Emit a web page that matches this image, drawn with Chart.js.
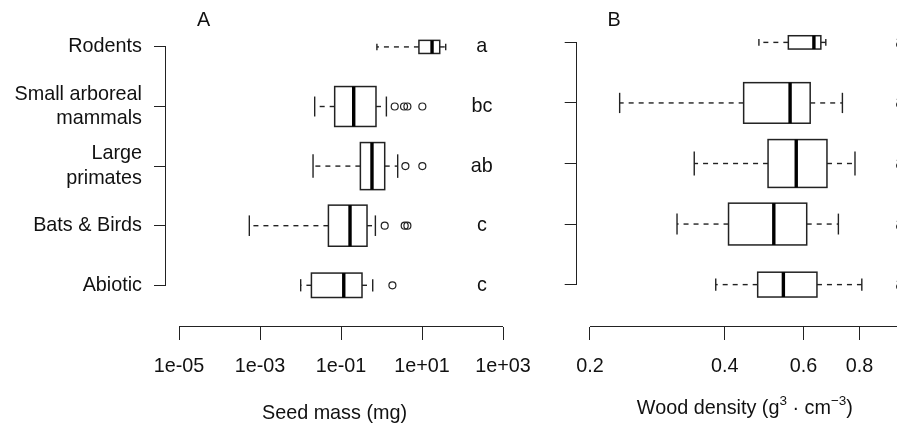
<!DOCTYPE html>
<html>
<head>
<meta charset="utf-8">
<title>Seed mass and wood density by disperser group</title>
<script src="https://cdn.jsdelivr.net/npm/chart.js@4.4.1/dist/chart.umd.min.js"></script>
<style>
  html, body { margin: 0; padding: 0; background: #fff; overflow: hidden; }
  body { width: 897px; height: 425px; position: relative; }
  canvas { position: absolute; top: 0; }
  #seedMass { left: 0; }
  #woodDensity { left: 520px; }
</style>
</head>
<body>
<canvas id="seedMass" width="560" height="425"></canvas>
<canvas id="woodDensity" width="400" height="425"></canvas>
<script>
// disperser groups, top to bottom
const groups = ['Rodents', ['Small arboreal', 'mammals'], ['Large', 'primates'], 'Bats & Birds', 'Abiotic'];

// each row: lower whisker, Q1, median, Q3, upper whisker
const seedMass = [
  [0.77, 8.4, 17.7, 27.4, 38.5],
  [0.0224, 0.0698, 0.206, 0.731, 1.32],
  [0.0204, 0.301, 0.582, 1.2, 2.51],
  [0.000545, 0.0489, 0.167, 0.439, 0.706],
  [0.0101, 0.0186, 0.117, 0.33, 0.607]
];
const seedMassOutliers = [
  [],
  [2.12, 3.6, 4.36, 10.2],
  [3.89, 10.2],
  [1.2, 3.74, 4.36],
  [1.86]
];
const seedMassLetters = ['a', 'bc', 'ab', 'c', 'c'];
const seedMassTicks = [1e-5, 1e-3, 1e-1, 1e1, 1e3];
const seedMassTickLabels = ['1e-05', '1e-03', '1e-01', '1e+01', '1e+03'];

const woodDensity = [
  [0.477, 0.555, 0.633, 0.656, 0.673],
  [0.233, 0.441, 0.56, 0.621, 0.733],
  [0.342, 0.5, 0.578, 0.677, 0.782],
  [0.313, 0.408, 0.515, 0.61, 0.718],
  [0.382, 0.474, 0.541, 0.643, 0.81]
];
const woodDensityOutliers = [[], [], [], [], []];
const woodDensityLetters = ['a', 'a', 'a', 'a', 'a'];
const woodDensityTicks = [0.2, 0.4, 0.6, 0.8];
const woodDensityTickLabels = ['0.2', '0.4', '0.6', '0.8'];

// relative box heights (varwidth), in units of group spacing
const boxHeights = [0.22, 0.67, 0.79, 0.69, 0.41];

const FONT = '"Liberation Sans", Arial, sans-serif';
const SIZE = 19.8;
const INK = '#111';
const LINE = '#222';

function line(ctx, x1, y1, x2, y2) {
  ctx.beginPath();
  ctx.moveTo(x1, y1);
  ctx.lineTo(x2, y2);
  ctx.stroke();
}

const boxplotPlugin = {
  id: 'boxplot',
  beforeDatasetsDraw(chart, args, opts) {
    const { ctx, scales: { x, y } } = chart;
    ctx.save();
    opts.stats.forEach((s, i) => {
      const [lo, q1, med, q3, hi] = s.map(v => x.getPixelForValue(v));
      const pos = i + 1;
      const h = boxHeights[i] / 2;
      const top = y.getPixelForValue(pos - h);
      const bottom = y.getPixelForValue(pos + h);
      const mid = y.getPixelForValue(pos);
      const capTop = y.getPixelForValue(pos - h / 2);
      const capBot = y.getPixelForValue(pos + h / 2);

      ctx.strokeStyle = LINE;
      ctx.lineWidth = 1.4;
      ctx.setLineDash([5, 5]);
      line(ctx, q1, mid, lo, mid);
      line(ctx, q3, mid, hi, mid);
      ctx.setLineDash([]);
      line(ctx, lo, capTop, lo, capBot);
      line(ctx, hi, capTop, hi, capBot);

      ctx.fillStyle = '#fff';
      ctx.lineWidth = 1.5;
      ctx.fillRect(q1, top, q3 - q1, bottom - top);
      ctx.strokeRect(q1, top, q3 - q1, bottom - top);

      ctx.strokeStyle = '#000';
      ctx.lineWidth = 3.4;
      line(ctx, med, top, med, bottom);
    });

    // group letters
    ctx.fillStyle = INK;
    ctx.font = SIZE + 'px ' + FONT;
    ctx.textAlign = 'center';
    ctx.textBaseline = 'middle';
    const lx = x.getPixelForValue(opts.letterAt);
    opts.letters.forEach((t, i) => ctx.fillText(t, lx, y.getPixelForValue(i + 1)));
    ctx.restore();
  },
  afterDraw(chart, args, opts) {
    const { ctx, chartArea, scales: { x, y } } = chart;
    ctx.save();
    ctx.strokeStyle = LINE;
    ctx.lineWidth = 1;
    // axis lines run between the outer ticks
    const xb = Math.round(chartArea.bottom) - 0.5;
    const xEnd = opts.axisToEdge ? chartArea.right : x.getPixelForValue(opts.ticks[opts.ticks.length - 1]);
    line(ctx, x.getPixelForValue(opts.ticks[0]), xb, xEnd, xb);
    const yl = Math.round(chartArea.left) - 0.5;
    line(ctx, yl, y.getPixelForValue(1), yl, y.getPixelForValue(groups.length));

    ctx.fillStyle = INK;
    ctx.font = SIZE + 'px ' + FONT;
    ctx.textAlign = 'center';
    ctx.textBaseline = 'middle';
    ctx.fillText(opts.panel, chartArea.left + 37.5, 20.5);

    // axis title with superscripts
    if (opts.richTitle) {
      const parts = opts.richTitle;
      const big = SIZE + 'px ' + FONT, small = '13.5px ' + FONT;
      let w = 0;
      parts.forEach(p => { ctx.font = p.sup ? small : big; w += ctx.measureText(p.t).width; });
      let px = (chartArea.left + chartArea.right) / 2 - w / 2;
      ctx.textAlign = 'left';
      ctx.textBaseline = 'alphabetic';
      parts.forEach(p => {
        ctx.font = p.sup ? small : big;
        ctx.fillText(p.t, px, p.sup ? 405 : 414);
        px += ctx.measureText(p.t).width;
      });
    }
    ctx.restore();
  }
};

function makePanel(id, cfg) {
  const outlierPoints = cfg.outliers.flatMap((vals, i) => vals.map(v => ({ x: v, y: i + 1 })));
  return new Chart(document.getElementById(id), {
    type: 'scatter',
    data: {
      datasets: [{
        data: outlierPoints,
        pointStyle: 'circle',
        pointRadius: 3.5,
        borderColor: LINE,
        borderWidth: 1.2,
        backgroundColor: 'rgba(0,0,0,0)'
      }]
    },
    plugins: [boxplotPlugin],
    options: {
      responsive: false,
      animation: false,
      events: [],
      layout: { padding: { left: 0, top: 0, bottom: 0, right: cfg.padRight } },
      plugins: {
        legend: { display: false },
        tooltip: { enabled: false },
        boxplot: {
          stats: cfg.stats,
          letters: cfg.letters,
          letterAt: cfg.letterAt,
          ticks: cfg.ticks,
          panel: cfg.panel,
          axisToEdge: cfg.axisToEdge,
          richTitle: cfg.richTitle
        }
      },
      scales: {
        x: {
          type: 'logarithmic',
          min: cfg.min,
          max: cfg.max,
          bounds: 'data',
          afterBuildTicks: s => { s.ticks = cfg.ticks.map(v => ({ value: v })); },
          afterFit: s => { s.height = 98; s.paddingLeft = 0; s.paddingRight = 0; },
          border: { display: false },
          grid: { drawOnChartArea: false, drawTicks: true, tickLength: 13, color: LINE, lineWidth: 1 },
          ticks: {
            autoSkip: false,
            maxRotation: 0,
            padding: 14.3,
            color: INK,
            font: { family: FONT, size: SIZE, lineHeight: 1.2 },
            callback: (v, i) => cfg.tickLabels[i]
          },
          title: {
            display: !!cfg.title,
            text: cfg.title || '',
            color: INK,
            padding: { top: 0, bottom: 0 },
            font: { family: FONT, size: SIZE, lineHeight: 1.15 }
          }
        },
        y: {
          type: 'linear',
          reverse: true,
          min: 0.3,
          max: 5.7,
          bounds: 'data',
          afterBuildTicks: s => { s.ticks = groups.map((g, i) => ({ value: i + 1 })); },
          afterFit: s => { s.width = cfg.leftWidth; s.paddingTop = 0; s.paddingBottom = 0; },
          border: { display: false },
          grid: { drawOnChartArea: false, drawTicks: true, tickLength: 12, color: LINE, lineWidth: 1 },
          ticks: {
            display: cfg.showGroups,
            autoSkip: false,
            padding: 12,
            color: INK,
            font: { family: FONT, size: SIZE, lineHeight: 1.22 },
            callback: v => groups[v - 1]
          }
        }
      }
    }
  });
}

makePanel('seedMass', {
  stats: seedMass,
  outliers: seedMassOutliers,
  letters: seedMassLetters,
  letterAt: 300,
  ticks: seedMassTicks,
  tickLabels: seedMassTickLabels,
  min: Math.pow(10, -5.321),
  max: 1e3,
  leftWidth: 166,
  padRight: 57,
  showGroups: true,
  panel: 'A',
  title: 'Seed mass (mg)'
});

makePanel('woodDensity', {
  stats: woodDensity,
  outliers: woodDensityOutliers,
  letters: woodDensityLetters,
  letterAt: 0.99,
  ticks: woodDensityTicks,
  tickLabels: woodDensityTickLabels,
  min: 0.1868,
  max: 1.054,
  leftWidth: 56.7,
  padRight: 7,
  showGroups: false,
  axisToEdge: true,
  panel: 'B',
  richTitle: [
    { t: 'Wood density (g' },
    { t: '3', sup: true },
    { t: ' \u00b7 cm' },
    { t: '\u22123', sup: true },
    { t: ')' }
  ]
});
</script>
</body>
</html>
